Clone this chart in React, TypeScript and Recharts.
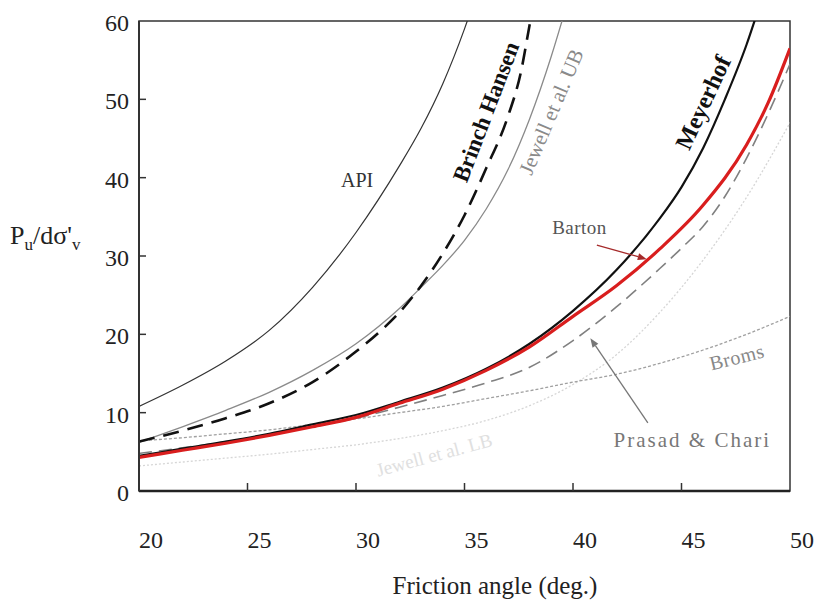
import React from "react";
import {
  LineChart,
  Line,
  XAxis,
  YAxis,
  ReferenceArea,
  ReferenceDot,
  ReferenceLine,
} from "recharts";

const FONT = '"Liberation Serif", "Times New Roman", serif';

// friction angle (deg) / Pu/dσ'v
const apiAngle = [20, 22, 24, 26, 28, 30, 32, 33, 34, 35, 35.5];
const apiValue = [10.8, 13.5, 16.6, 20.5, 26.0, 33.0, 41.5, 46.3, 52.0, 59.0, 63];

const hansenAngle = [20, 22, 24, 26, 28, 30, 31, 32, 33, 34, 35, 36, 37, 37.6, 38, 38.3];
const hansenValue = [6.3, 7.7, 9.3, 11.2, 13.9, 17.8, 20.1, 22.8, 26.2, 30.3, 35.2, 41.2, 47.8, 53.5, 59.5, 64];

const jewellUbAngle = [20, 22, 24, 26, 28, 30, 32, 33, 34, 35, 36, 37, 38, 39, 39.6];
const jewellUbValue = [6.2, 8.2, 10.3, 12.6, 15.4, 18.8, 23.3, 26.0, 28.8, 32.0, 36.0, 41.0, 47.5, 55.5, 61];

const meyerhofAngle = [20, 22, 24, 26, 28, 30, 32, 34, 36, 38, 40, 42, 44, 45, 46, 47, 48, 48.6];
const meyerhofValue = [4.5, 5.4, 6.3, 7.3, 8.5, 9.7, 11.4, 13.2, 15.6, 18.8, 23.0, 28.2, 34.8, 38.8, 43.8, 50.0, 57.0, 62];

const bartonAngle = [20, 22, 24, 26, 28, 30, 32, 34, 36, 38, 40, 42, 44, 46, 48, 49, 50];
const bartonValue = [4.3, 5.2, 6.1, 7.1, 8.2, 9.4, 11.2, 13.0, 15.4, 18.4, 22.3, 26.2, 30.9, 36.5, 44.2, 49.6, 56.5];

const prasadAngle = [20, 22, 24, 26, 28, 30, 32, 34, 36, 38, 40, 42, 44, 45, 46, 47, 48, 49, 50];
const prasadValue = [4.8, 5.5, 6.3, 7.2, 8.2, 9.3, 10.7, 12.2, 13.8, 15.8, 19.2, 23.5, 28.4, 31.0, 33.8, 37.6, 42.5, 48.2, 54.5];

const bromsAngle = [20, 22, 24, 26, 28, 30, 32, 34, 36, 38, 40, 42, 44, 46, 48, 50];
const bromsValue = [6.4, 6.8, 7.3, 7.8, 8.5, 9.2, 10.0, 10.8, 11.8, 12.8, 13.9, 14.9, 16.3, 18.0, 20.0, 22.3];

const jewellLbAngle = [20, 22, 24, 26, 28, 30, 32, 34, 36, 38, 40, 42, 44, 46, 48, 50];
const jewellLbValue = [3.2, 3.7, 4.2, 4.7, 5.3, 5.9, 6.7, 7.7, 9.0, 10.9, 13.6, 17.4, 22.8, 29.5, 37.5, 47];

const xTicks = [20, 25, 30, 35, 40, 45, 50];
const yTicks = [0, 10, 20, 30, 40, 50, 60];

const zip = (xs: number[], ys: number[]) => xs.map((x, i) => ({ x, y: ys[i] }));

// curve labels: [text, angle, value, rotation, size, colour, bold, spacing]
const labels: [string, number, number, number, number, string, boolean, number][] = [
  ["API", 30.05, 39.7, 0, 20, "#333", false, 0],
  ["Brinch Hansen", 36.0, 48.4, -69, 23, "#111", true, 0],
  ["Jewell et al. UB", 39.0, 48.4, -67, 21, "#8a8a8a", false, 0],
  ["Meyerhof", 46.0, 49.6, -65, 24, "#111", true, 0],
  ["Barton", 40.3, 33.6, 0, 19, "#555", false, 0.5],
  ["Broms", 47.55, 17.1, -14, 20, "#888", false, 0.5],
  ["Prasad & Chari", 45.5, 6.5, 0, 21, "#777", false, 2],
  ["Jewell et al. LB", 33.6, 4.6, -15, 19, "#e0e0e0", false, 0],
];

const XTick = (props: any) => {
  const { x, y, payload } = props;
  const v = payload.value;
  return (
    <g>
      {v > 20 && v < 50 && (
        <line x1={x} y1={y} x2={x} y2={y - 8} stroke="#333" strokeWidth={1.5} />
      )}
      <text x={x + 12} y={y + 57} textAnchor="middle" fontSize={24} fill="#222" fontFamily={FONT}>
        {v}
      </text>
    </g>
  );
};

const YTick = (props: any) => {
  const { x, y, payload } = props;
  const v = payload.value;
  return (
    <g>
      {v > 0 && v < 60 && (
        <line x1={x} y1={y} x2={x + 7} y2={y} stroke="#333" strokeWidth={1.5} />
      )}
      <text x={x - 10} y={y + 10} textAnchor="end" fontSize={24} fill="#222" fontFamily={FONT}>
        {v}
      </text>
    </g>
  );
};

const arrowShape = (color: string) => (props: any) => {
  const { x1, y1, x2, y2 } = props;
  const a = Math.atan2(y2 - y1, x2 - x1);
  const l = 9;
  const w = 3.5;
  const bx = x2 - l * Math.cos(a);
  const by = y2 - l * Math.sin(a);
  const px = -Math.sin(a) * w;
  const py = Math.cos(a) * w;
  return (
    <g>
      <line x1={x1} y1={y1} x2={bx} y2={by} stroke={color} strokeWidth={1.3} />
      <polygon points={`${x2},${y2} ${bx + px},${by + py} ${bx - px},${by - py}`} fill={color} />
    </g>
  );
};

export default function App() {
  return (
    <div style={{ position: "absolute", left: 0, top: 0, background: "#fff" }}>
      <LineChart width={820} height={604} margin={{ top: 21, right: 30, left: 0, bottom: 0 }}>
        <XAxis
          type="number"
          dataKey="x"
          domain={[20, 50]}
          ticks={xTicks}
          allowDataOverflow
          height={113}
          tickSize={0}
          tickMargin={0}
          tickLine={false}
          tick={<XTick />}
          axisLine={{ stroke: "#222", strokeWidth: 2.5 }}
        />
        <YAxis
          type="number"
          domain={[0, 60]}
          ticks={yTicks}
          allowDataOverflow
          width={139}
          tickSize={0}
          tickMargin={0}
          tickLine={false}
          tick={<YTick />}
          axisLine={{ stroke: "#333", strokeWidth: 2 }}
        />
        <ReferenceArea x1={20} x2={50} y1={0} y2={60} fill="none" stroke="#333" strokeWidth={1.5} />

        <Line data={zip(jewellLbAngle, jewellLbValue)} dataKey="y" type="monotone" stroke="#d6d6d6" strokeWidth={1.3} strokeDasharray="2 2" dot={false} isAnimationActive={false} />
        <Line data={zip(bromsAngle, bromsValue)} dataKey="y" type="monotone" stroke="#a0a0a0" strokeWidth={1.3} strokeDasharray="3 2" dot={false} isAnimationActive={false} />
        <Line data={zip(apiAngle, apiValue)} dataKey="y" type="monotone" stroke="#333" strokeWidth={1.2} dot={false} isAnimationActive={false} />
        <Line data={zip(jewellUbAngle, jewellUbValue)} dataKey="y" type="monotone" stroke="#8a8a8a" strokeWidth={1.3} dot={false} isAnimationActive={false} />
        <Line data={zip(hansenAngle, hansenValue)} dataKey="y" type="monotone" stroke="#111" strokeWidth={2.6} strokeDasharray="16 9" dot={false} isAnimationActive={false} />
        <Line data={zip(prasadAngle, prasadValue)} dataKey="y" type="monotone" stroke="#808080" strokeWidth={1.6} strokeDasharray="13 7" dot={false} isAnimationActive={false} />
        <Line data={zip(meyerhofAngle, meyerhofValue)} dataKey="y" type="monotone" stroke="#111" strokeWidth={2.2} dot={false} isAnimationActive={false} />
        <Line data={zip(bartonAngle, bartonValue)} dataKey="y" type="monotone" stroke="#d91e1e" strokeWidth={3.2} dot={false} isAnimationActive={false} />

        <ReferenceLine segment={[{ x: 41.1, y: 31.4 }, { x: 43.4, y: 29.6 }]} shape={arrowShape("#a52a2a")} />
        <ReferenceLine segment={[{ x: 43.45, y: 8.7 }, { x: 40.8, y: 19.5 }]} shape={arrowShape("#777")} />

        {labels.map(([t, lx, ly, rot, size, color, bold, spacing]) => (
          <ReferenceDot
            key={t}
            x={lx}
            y={ly}
            r={0}
            shape={(p: any) => (
              <text
                x={p.cx}
                y={p.cy}
                textAnchor="middle"
                dominantBaseline="central"
                transform={`rotate(${rot} ${p.cx} ${p.cy})`}
                fontSize={size}
                fill={color}
                fontWeight={bold ? "bold" : "normal"}
                letterSpacing={spacing}
                fontFamily={FONT}
              >
                {t}
              </text>
            )}
          />
        ))}

        <text x={495} y={594} textAnchor="middle" fontSize={25} fill="#222" fontFamily={FONT}>
          Friction angle (deg.)
        </text>
        <text x={10} y={244} fontSize={26} fill="#222" fontFamily={FONT}>
          P
          <tspan fontSize={17} dy={6}>u</tspan>
          <tspan dy={-6}>/dσ'</tspan>
          <tspan fontSize={17} dy={6}>v</tspan>
        </text>
      </LineChart>
    </div>
  );
}
